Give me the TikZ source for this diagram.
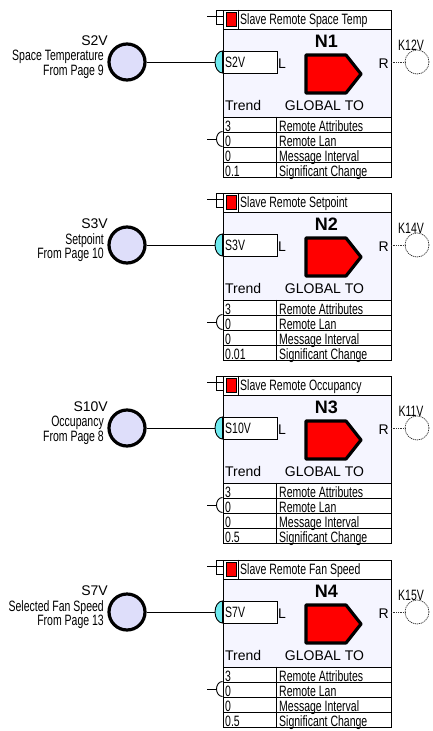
\documentclass[tikz,border=0pt]{standalone}
\usepackage{fontspec}
\setmainfont{Liberation Sans}
\newfontfamily\narrowfont[FakeStretch=0.7]{Liberation Sans}
\definecolor{lavender}{RGB}{222,222,250}
\definecolor{bodyfill}{RGB}{245,245,255}
\definecolor{tealfill}{RGB}{110,235,240}
\tikzset{box/.style={draw, line width=1pt, rectangle, inner sep=0pt, anchor=north west}}
\tikzset{rowtext/.style={inner sep=0pt, anchor=base west, font=\narrowfont\fontsize{15}{15}\selectfont}}
\tikzset{source/.style={circle, draw, line width=3.2pt, fill=lavender, minimum size=36pt, inner sep=0pt}}
\tikzset{target/.style={circle, draw=black!80, dash pattern=on 1.2pt off 0.8pt, line width=0.7pt, fill=white, minimum size=24pt, inner sep=0pt}}
\tikzset{wire/.style={line width=0.9pt}}

\begin{document}
\begin{tikzpicture}[x=1pt,y=-1pt]
  \useasboundingbox (0,0) rectangle (433,731);
  \foreach \n/\dy/\src/\what/\info/\pg/\out/\val in {
      1/0/S2V/Space Temp/Space Temperature/9/K12V/0.1,
      2/183/S3V/Setpoint/Setpoint/10/K14V/0.01,
      3/366/S10V/Occupancy/Occupancy/8/K11V/0.5,
      4/550/S7V/Fan Speed/Selected Fan Speed/13/K15V/0.5} {
    \begin{scope}[yshift=-\dy pt]
      % header bar with its stub
      \node[box, minimum width=168.5pt, minimum height=19pt] (bar\n) at (222.5,9.5) {};
      \node[box, fill=red, minimum width=10pt, minimum height=14pt] (flag\n) at (226,12) {};
      \draw[wire] (238,9.5) -- (238,28.5);
      \node[rowtext] (head\n) at (240,24) {Slave Remote \what};
      \coordinate (barstub\n) at (207,16.5);
      \draw[wire] (222.5,10) -- (216.5,10) -- (216.5,24) -- (222.5,24);
      \draw[wire] (222.5,16.5) -- (barstub\n);
      % main body
      \node[box, fill=bodyfill, minimum width=168.5pt, minimum height=88pt] (body\n) at (222.5,28.5) {};
      \node[inner sep=0pt, font=\bfseries\fontsize{18}{18}\selectfont] (name\n) at (326.5,41) {N\n};
      \draw[fill=tealfill, wire] (222.5,51) arc[start angle=90, end angle=270, x radius=7.5pt, y radius=11pt] -- cycle;
      \node[box, fill=white, minimum width=54pt, minimum height=22pt] (input\n) at (222.5,51) {};
      \node[rowtext] (inputlabel\n) at (225,67) {\src};
      \node[inner sep=0pt, anchor=base west, font=\fontsize{14}{14}\selectfont] (left\n) at (278,68) {L};
      \node[inner sep=0pt, anchor=base east, font=\fontsize{14}{14}\selectfont] (right\n) at (389,68) {R};
      \draw[line width=3.2pt, line join=round, fill=red] (306,55) -- (346,55) -- (361,74) -- (346,93) -- (306,93) -- cycle;
      \node[inner sep=0pt, anchor=base west, font=\fontsize{14}{14}\selectfont] (trend\n) at (225,110.5) {Trend};
      \node[inner sep=0pt, anchor=base, font=\fontsize{14}{14}\selectfont] (mode\n) at (324.5,110.5) {GLOBAL TO};
      % table rows
      \foreach \rw/\ya/\num/\lab in {1/116.5/3/Remote Attributes, 2/131.5/0/Remote Lan, 3/146.5/0/Message Interval, 4/162/\val/Significant Change} {
        \node[rowtext] (value\n\rw) at (225,\ya+14.5) {\num};
        \node[rowtext] (text\n\rw) at (279,\ya+14.5) {\lab};
        \node[box, minimum width=168.5pt, minimum height=15.3pt] (row\n\rw) at (222.5,\ya) {};
      }
      \draw[wire] (276,116.5) -- (276,177.5);
      \coordinate (lanstub\n) at (207,139);
      \draw[wire] (222.5,131.5) arc[start angle=90, end angle=270, x radius=6pt, y radius=7.5pt];
      \draw[wire] (216.5,139) -- (lanstub\n);
      % source on the left
      \node[source] (src\n) at (127,62) {};
      \draw[wire] (src\n) -- (215,62);
      \node[inner sep=0pt, anchor=base east, font=\fontsize{14}{14}\selectfont] (srcname\n) at (108,45) {\src};
      \node[inner sep=0pt, anchor=north east, align=right, font=\narrowfont\fontsize{15}{14.5}\selectfont] (srcinfo\n) at (104,50) {\info\\From Page \pg};
      % target on the right
      \node[target] (dest\n) at (417,62) {};
      \draw[black!80, densely dotted, line width=0.7pt] (391,62) -- (dest\n);
      \node[rowtext, anchor=base] (destname\n) at (411,50) {\out};
    \end{scope}
  }
\end{tikzpicture}
\end{document}
